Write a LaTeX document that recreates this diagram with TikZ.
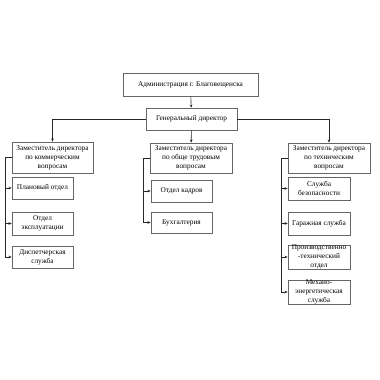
\documentclass[tikz,border=0pt]{standalone}
\usepackage{fontspec}
\setmainfont{Liberation Serif}
\usetikzlibrary{arrows.meta}
\begin{document}
\begin{tikzpicture}[x=1pt,y=-1pt,
  box/.style={draw=black!60, line width=0.6pt, fill=white, inner sep=1pt, align=center,
    font=\fontsize{7.3}{8.9}\selectfont},
  conn/.style={draw=black!85, line width=0.6pt, -{Stealth[length=3.2pt,width=2.6pt]}}]
\useasboundingbox (0,0) rectangle (380,380);
\fill[white] (0,0) rectangle (380,380);
% top
\node[box, minimum width=135pt, minimum height=23pt] (adm) at (190.5,84.5) {Администрация г. Благовещенска};
\node[box, minimum width=91pt, minimum height=22pt] (gen) at (191.5,119) {Генеральный директор};
% deputies
\node[box, minimum width=81pt, minimum height=31pt] (ld) at (52.5,157.5) {Заместитель директора\\по коммерческим\\вопросам};
\node[box, minimum width=82pt, minimum height=30pt] (md) at (191,158) {Заместитель директора\\по обще трудовым\\вопросам};
\node[box, minimum width=82pt, minimum height=30pt] (rd) at (329,158) {Заместитель директора\\по техническим\\вопросам};
% left subs
\node[box, minimum width=61pt, minimum height=22pt] (l1) at (42.5,188) {Плановый отдел};
\node[box, minimum width=61pt, minimum height=23pt] (l2) at (42.5,223.5) {Отдел\\эксплуатации};
\node[box, minimum width=61pt, minimum height=22pt] (l3) at (42.5,257) {Диспетчерская\\служба};
% middle subs
\node[box, minimum width=61pt, minimum height=22pt] (m1) at (181.5,191) {Отдел кадров};
\node[box, minimum width=61pt, minimum height=21pt] (m2) at (181.5,222.5) {Бухгалтерия};
% right subs
\node[box, minimum width=62pt, minimum height=23pt] (r1) at (319,188.5) {Служба\\безопасности};
\node[box, minimum width=62pt, minimum height=23pt] (r2) at (319,223.5) {Гаражная служба};
\node[box, minimum width=62pt, minimum height=22pt, inner sep=0pt] (r3) at (319,257) {Производственно\\-технический\\отдел};
\node[box, minimum width=62pt, minimum height=22pt, inner sep=0pt] (r4) at (319,292) {Механо-\\энергетическая\\служба};
% connectors
\draw[conn] (adm) -- (gen);
\draw[conn] (gen) -- (md);
\draw[conn] (gen.west) -| (ld.north);
\draw[conn] (gen.east) -| (rd.north);
\foreach \c in {l1,l2,l3} \draw[conn] (ld.west) -- ++(-6,0) |- (\c.west);
\foreach \c in {m1,m2} \draw[conn] (md.west) -- ++(-6,0) |- (\c.west);
\foreach \c in {r1,r2,r3,r4} \draw[conn] (rd.west) -- ++(-6,0) |- (\c.west);
\end{tikzpicture}
\end{document}
